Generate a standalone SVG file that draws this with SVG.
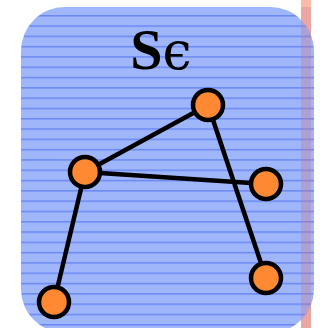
<svg xmlns="http://www.w3.org/2000/svg" width="320" height="328" viewBox="0 0 320 328">
  <defs>
    <pattern id="hlines" patternUnits="userSpaceOnUse" x="0" y="15" width="20" height="10.3">
      <rect x="0" y="0" width="20" height="10.3" fill="#98b0fb"/>
      <rect x="0" y="0" width="20" height="1.5" fill="#6080f2"/>
    </pattern>
  </defs>
  <style>
    .node circle { fill: #ff8833; stroke: #000; stroke-width: 4.5; }
    .edge { stroke: #000; stroke-width: 4.5; fill: none; }
    .label { font-family: "Liberation Serif", "DejaVu Serif", serif; font-size: 58px; fill: #000; }
  </style>
  <rect id="strip" x="301" y="0" width="10" height="328" fill="#fbbaa8"/>
  <g id="container">
    <rect x="21" y="7" width="293" height="326" rx="44" ry="44" fill="url(#hlines)" opacity="0.93"/>
    <rect x="301" y="7" width="10" height="326" fill="#c8809a" opacity="0.35"/>
    <text class="label" x="161" y="69" text-anchor="middle"><tspan font-weight="bold">S</tspan><tspan font-family="DejaVu Serif, serif" font-size="52">ϵ</tspan></text>
  </g>
  <g id="connectors">
    <line class="edge" x1="85" y1="172" x2="208" y2="105"/>
    <line class="edge" x1="85" y1="172" x2="266" y2="184"/>
    <line class="edge" x1="85" y1="172" x2="54" y2="302"/>
    <line class="edge" x1="208" y1="105" x2="266" y2="278"/>
  </g>
  <g id="n1" class="node"><circle cx="208" cy="105" r="15"/></g>
  <g id="n2" class="node"><circle cx="85" cy="172" r="15"/></g>
  <g id="n3" class="node"><circle cx="266" cy="184" r="15"/></g>
  <g id="n4" class="node"><circle cx="266" cy="278" r="15"/></g>
  <g id="n5" class="node"><circle cx="54" cy="302" r="15"/></g>
</svg>
